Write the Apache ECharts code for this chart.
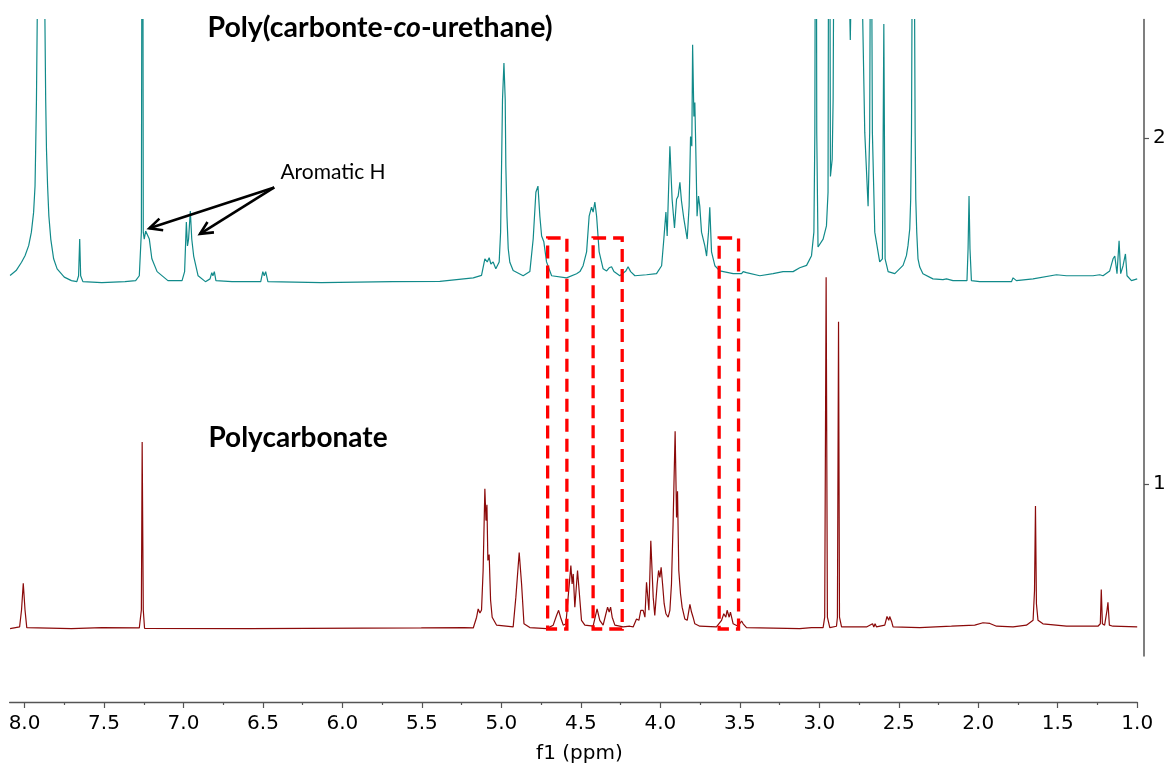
<!DOCTYPE html>
<html>
<head>
<meta charset="utf-8">
<script src="https://cdn.jsdelivr.net/npm/echarts@6/dist/echarts.min.js"></script>
<style>
  html, body { margin: 0; padding: 0; background: #fff; }
  #nmr_chart { width: 1176px; height: 769px; }
</style>
</head>
<body>
<div id="nmr_chart"></div>
<script>
// 1H NMR spectra, [ppm, intensity]
const pcuSpectrum = [
  [8.091,1.603],[8.053,1.617],[8.019,1.641],[7.997,1.660],[7.974,1.689],[7.957,1.728],[7.943,1.785],[7.934,1.861],
  [7.930,1.967],[7.925,2.111],[7.896,3.5],[7.867,2.111],[7.862,1.967],[7.855,1.861],[7.847,1.775],[7.835,1.708],
  [7.817,1.651],[7.795,1.622],[7.750,1.598],[7.705,1.588],[7.671,1.585],[7.660,1.602],[7.653,1.708],
  [7.647,1.602],[7.633,1.585],[7.514,1.582],[7.368,1.585],[7.301,1.588],[7.278,1.602],[7.265,1.728],[7.258,3.5],
  [7.253,1.728],[7.247,1.708],[7.238,1.731],[7.229,1.728],[7.215,1.708],[7.199,1.651],[7.166,1.614],[7.098,1.588],
  [7.009,1.588],[6.993,1.614],[6.982,1.757],[6.975,1.688],[6.968,1.708],[6.957,1.789],[6.948,1.708],[6.936,1.659],
  [6.930,1.657],[6.908,1.602],[6.862,1.585],[6.833,1.593],[6.822,1.611],[6.815,1.602],[6.806,1.614],[6.796,1.588],
  [6.695,1.585],[6.514,1.585],[6.501,1.614],[6.492,1.602],[6.483,1.614],[6.469,1.585],[6.133,1.582],[5.683,1.585],
  [5.387,1.586],[5.177,1.596],[5.125,1.603],[5.104,1.651],[5.089,1.642],[5.077,1.654],[5.066,1.636],[5.052,1.642],
  [5.035,1.622],[5.014,1.642],[5.005,1.728],[4.999,1.918],[4.993,2.111],[4.984,2.216],[4.976,2.111],[4.972,1.918],
  [4.965,1.775],[4.957,1.680],[4.947,1.641],[4.926,1.617],[4.863,1.602],
  [4.821,1.614],[4.800,1.708],[4.783,1.843],[4.777,1.838],[4.770,1.861],[4.758,1.774],[4.747,1.717],[4.733,1.700],
  [4.716,1.642],[4.684,1.602],[4.590,1.596],[4.527,1.608],[4.506,1.614],[4.486,1.631],[4.464,1.671],[4.448,1.774],
  [4.433,1.800],[4.423,1.786],[4.412,1.815],[4.401,1.774],[4.385,1.671],[4.360,1.622],[4.338,1.616],[4.322,1.625],
  [4.307,1.628],[4.292,1.614],[4.255,1.602],[4.217,1.616],[4.203,1.628],[4.187,1.614],[4.160,1.602],[4.087,1.605],
  [4.024,1.608],[3.992,1.631],[3.978,1.708],[3.965,1.786],[3.957,1.717],[3.940,1.976],[3.926,1.823],[3.911,1.740],
  [3.898,1.823],[3.888,1.832],[3.877,1.872],[3.867,1.818],[3.852,1.766],[3.831,1.708],[3.819,1.803],[3.810,2.004],
  [3.802,1.976],[3.797,2.269],[3.789,2.062],[3.783,2.102],[3.777,1.967],[3.769,1.774],[3.760,1.832],[3.752,1.803],
  [3.741,1.728],[3.720,1.688],[3.709,1.659],[3.697,1.728],[3.689,1.800],[3.678,1.671],[3.657,1.631],[3.626,1.616],
  [3.542,1.608],[3.489,1.608],[3.479,1.614],[3.458,1.611],[3.374,1.602],[3.291,1.608],[3.228,1.614],[3.165,1.614],
  [3.123,1.625],[3.080,1.632],[3.049,1.660],[3.034,1.728],[3.028,2.015],[3.021,3.5],[3.016,2.015],[3.008,1.685],
  [2.976,1.708],[2.955,1.746],
  [2.945,1.843],[2.938,3.5],[2.930,1.889],[2.919,1.938],[2.913,2.111],[2.899,3.5],[2.859,3.0],[2.827,2.8],
  [2.805,2.283],[2.786,2.8],[2.754,3.2],[2.737,2.6],[2.714,2.016],[2.693,1.803],[2.683,2.016],[2.675,3.0],
  [2.666,2.016],[2.651,1.728],[2.620,1.642],[2.603,1.651],[2.594,2.329],[2.586,1.651],[2.567,1.614],[2.525,1.608],
  [2.473,1.632],[2.452,1.660],[2.442,1.689],[2.431,1.737],[2.425,1.823],[2.420,2.015],[2.409,3.2],[2.397,2.015],
  [2.393,1.823],[2.387,1.728],[2.379,1.651],[2.368,1.627],[2.348,1.608],[2.285,1.593],
  [2.222,1.591],[2.200,1.593],[2.159,1.588],[2.071,1.588],[2.064,1.680],[2.058,1.832],[2.052,1.680],[2.043,1.588],
  [1.991,1.585],[1.791,1.585],[1.781,1.596],[1.760,1.588],[1.655,1.593],[1.508,1.605],[1.445,1.602],[1.278,1.602],
  [1.236,1.605],[1.215,1.602],[1.173,1.616],[1.152,1.651],[1.141,1.659],[1.127,1.608],[1.114,1.703],[1.104,1.608],
  [1.089,1.631],[1.074,1.665],[1.064,1.602],[1.036,1.588],[1.000,1.593]
];

const pcSpectrum = [
  [8.091,0.583],[8.031,0.588],[8.019,0.637],[8.008,0.714],[7.997,0.637],[7.986,0.586],[7.705,0.583],[7.514,0.586],
  [7.278,0.585],[7.265,0.637],[7.260,1.122],[7.253,0.637],[7.245,0.584],[6.582,0.583],[5.504,0.585],[5.234,0.586],
  [5.177,0.585],[5.156,0.616],[5.146,0.640],[5.135,0.628],[5.125,0.637],[5.115,0.751],[5.104,0.987],[5.097,0.895],
  [5.091,0.941],[5.085,0.780],[5.077,0.797],[5.068,0.665],[5.058,0.616],[5.030,0.593],[4.926,0.588],[4.909,0.674],
  [4.888,0.803],[4.873,0.712],[4.858,0.597],[4.821,0.586],[4.716,0.583],[4.674,0.593],[4.653,0.621],[4.640,0.636],
  [4.628,0.616],[4.611,0.593],[4.594,0.597],[4.580,0.674],[4.563,0.765],[4.555,0.712],[4.548,0.741],[4.538,0.645],
  [4.521,0.751],[4.511,0.693],[4.496,0.607],[4.475,0.593],[4.423,0.590],[4.398,0.640],[4.381,0.607],[4.360,0.593],
  [4.345,0.621],[4.332,0.645],[4.322,0.631],[4.313,0.645],[4.303,0.616],[4.286,0.593],[4.234,0.588],[4.192,0.590],
  [4.171,0.588],[4.150,0.611],[4.135,0.607],[4.123,0.636],[4.108,0.636],[4.097,0.616],[4.087,0.717],[4.072,0.636],
  [4.060,0.837],[4.045,0.674],[4.035,0.621],[4.020,0.712],[4.011,0.751],[4.003,0.731],[3.995,0.760],[3.986,0.712],
  [3.976,0.655],[3.965,0.626],[3.951,0.616],[3.940,0.636],[3.930,0.712],[3.920,0.884],[3.907,1.153],[3.898,0.904],
  [3.892,0.980],[3.884,0.751],[3.873,0.683],[3.863,0.645],[3.846,0.611],[3.831,0.607],[3.814,0.653],[3.804,0.631],
  [3.794,0.616],[3.783,0.597],[3.752,0.590],[3.647,0.588],[3.615,0.607],[3.601,0.626],[3.588,0.616],[3.580,0.636],
  [3.567,0.616],[3.559,0.631],[3.542,0.597],[3.511,0.590],[3.489,0.605],[3.479,0.597],[3.458,0.586],[3.123,0.583],
  [3.049,0.586],[2.976,0.586],[2.966,0.616],[2.957,1.598],[2.949,0.616],[2.934,0.586],[2.892,0.590],[2.886,0.616],
  [2.879,1.469],[2.873,0.616],[2.860,0.588],[2.703,0.588],[2.665,0.597],[2.657,0.588],[2.649,0.597],[2.640,0.588],
  [2.588,0.593],[2.574,0.618],[2.563,0.607],[2.557,0.618],[2.544,0.602],[2.536,0.588],[2.368,0.586],[2.169,0.590],
  [2.022,0.593],[1.970,0.600],[1.927,0.598],[1.885,0.590],[1.781,0.588],[1.697,0.593],[1.655,0.607],[1.646,0.693],
  [1.640,0.937],[1.634,0.655],[1.624,0.607],[1.593,0.597],[1.445,0.590],[1.247,0.590],[1.232,0.597],[1.226,0.696],
  [1.219,0.597],[1.205,0.593],[1.190,0.636],[1.184,0.659],[1.175,0.593],[1.153,0.590],[1.000,0.588]
];

const xMajorTicks = [1.0, 1.5, 2.0, 2.5, 3.0, 3.5, 4.0, 4.5, 5.0, 5.5, 6.0, 6.5, 7.0, 7.5, 8.0];
const xMinorTicks = [1.25, 1.75, 2.25, 2.75, 3.25, 3.75, 4.25, 4.75, 5.25, 5.75, 6.25, 6.75, 7.25, 7.75];
const yTicks = [1, 2];

// dashed boxes: [ppm left, ppm right, top, bottom]
const boxRanges = [
  [4.709, 4.588, 1.711, 0.582],
  [4.423, 4.240, 1.711, 0.582],
  [3.630, 3.508, 1.711, 0.582]
];
// arrows: [from ppm, from y, to ppm, to y]
const arrowLines = [
  [6.429, 1.857, 7.215, 1.739],
  [6.429, 1.857, 6.896, 1.723]
];

const chart = echarts.init(document.getElementById('nmr_chart'));

const axisFont = { fontFamily: 'DejaVu Sans', fontSize: 20, color: '#000' };

const option = {
  animation: false,
  grid: { left: 9.6, right: 38.8, top: 19.5, bottom: 110 },
  xAxis: [
    {
      type: 'value', inverse: true, min: 1.0, max: 8.094,
      position: 'bottom', offset: 46,
      axisLine: { show: true, lineStyle: { color: '#555', width: 1.3 } },
      axisTick: { show: true, customValues: xMajorTicks, length: 6, lineStyle: { color: '#555', width: 1.2 } },
      axisLabel: { customValues: xMajorTicks, formatter: v => v.toFixed(1), margin: 12, ...axisFont },
      splitLine: { show: false },
      name: 'f1 (ppm)', nameLocation: 'middle', nameGap: 42,
      nameTextStyle: { ...axisFont, padding: [0, 0, 0, 12] }
    },
    {
      type: 'value', inverse: true, min: 1.0, max: 8.094,
      position: 'bottom', offset: 46,
      axisLine: { show: false },
      axisTick: { show: true, customValues: xMinorTicks, length: 3, lineStyle: { color: '#555', width: 1.2 } },
      axisLabel: { show: false },
      splitLine: { show: false }
    }
  ],
  yAxis: {
    type: 'value', position: 'right', offset: 6.8, min: 0.504, max: 2.342,
    axisLine: { show: true, lineStyle: { color: '#555', width: 1.5 } },
    axisTick: { show: true, customValues: yTicks, length: 5, lineStyle: { color: '#555', width: 1.2 } },
    axisLabel: { customValues: yTicks, margin: 9, ...axisFont },
    splitLine: { show: false }
  },
  graphic: [
    {
      type: 'text', x: 380, y: 28,
      style: {
        text: '{b|Poly(carbonte-}{i|co}{b|-urethane)}',
        align: 'center', verticalAlign: 'middle',
        rich: {
          b: { fontFamily: 'Lato', fontWeight: 'bold', fontSize: 28.5, fill: '#000' },
          i: { fontFamily: 'Lato', fontWeight: 'bold', fontStyle: 'italic', fontSize: 28.5, fill: '#000' }
        }
      }
    },
    {
      type: 'text', x: 298, y: 438,
      style: {
        text: 'Polycarbonate', align: 'center', verticalAlign: 'middle',
        fontFamily: 'Lato', fontWeight: 'bold', fontSize: 28, fill: '#000'
      }
    },
    {
      type: 'text', x: 333, y: 172,
      style: {
        text: 'Aromatic H', align: 'center', verticalAlign: 'middle',
        fontFamily: 'Lato', fontSize: 21, fill: '#000'
      }
    }
  ],
  series: [
    {
      name: 'Poly(carbonte-co-urethane)', type: 'line', data: pcuSpectrum,
      showSymbol: false, clip: true, z: 2,
      lineStyle: { color: '#118a8a', width: 1.2 }
    },
    {
      name: 'Polycarbonate', type: 'line', data: pcSpectrum,
      showSymbol: false, clip: true, z: 2,
      lineStyle: { color: '#8b0a0a', width: 1.2 }
    },
    {
      type: 'custom', z: 5, data: boxRanges,
      renderItem: (params, api) => {
        const a = api.coord([api.value(0), api.value(2)]);
        const b = api.coord([api.value(1), api.value(3)]);
        return {
          type: 'rect',
          shape: { x: a[0], y: a[1], width: b[0] - a[0], height: b[1] - a[1] },
          style: { fill: 'none', stroke: '#ff0000', lineWidth: 3.3, lineDash: [13, 7] }
        };
      }
    },
    {
      type: 'custom', z: 6, data: arrowLines,
      renderItem: (params, api) => {
        const s = api.coord([api.value(0), api.value(1)]);
        const t = api.coord([api.value(2), api.value(3)]);
        const ang = Math.atan2(s[1] - t[1], s[0] - t[0]);
        const len = 14, spread = 0.45;
        const h1 = [t[0] + len * Math.cos(ang + spread), t[1] + len * Math.sin(ang + spread)];
        const h2 = [t[0] + len * Math.cos(ang - spread), t[1] + len * Math.sin(ang - spread)];
        const st = { stroke: '#000', lineWidth: 2.6, fill: 'none' };
        return {
          type: 'group',
          children: [
            { type: 'line', shape: { x1: s[0], y1: s[1], x2: t[0], y2: t[1] }, style: st },
            { type: 'polyline', shape: { points: [h1, t, h2] }, style: st }
          ]
        };
      }
    }
  ]
};

chart.setOption(option);
</script>
</body>
</html>
